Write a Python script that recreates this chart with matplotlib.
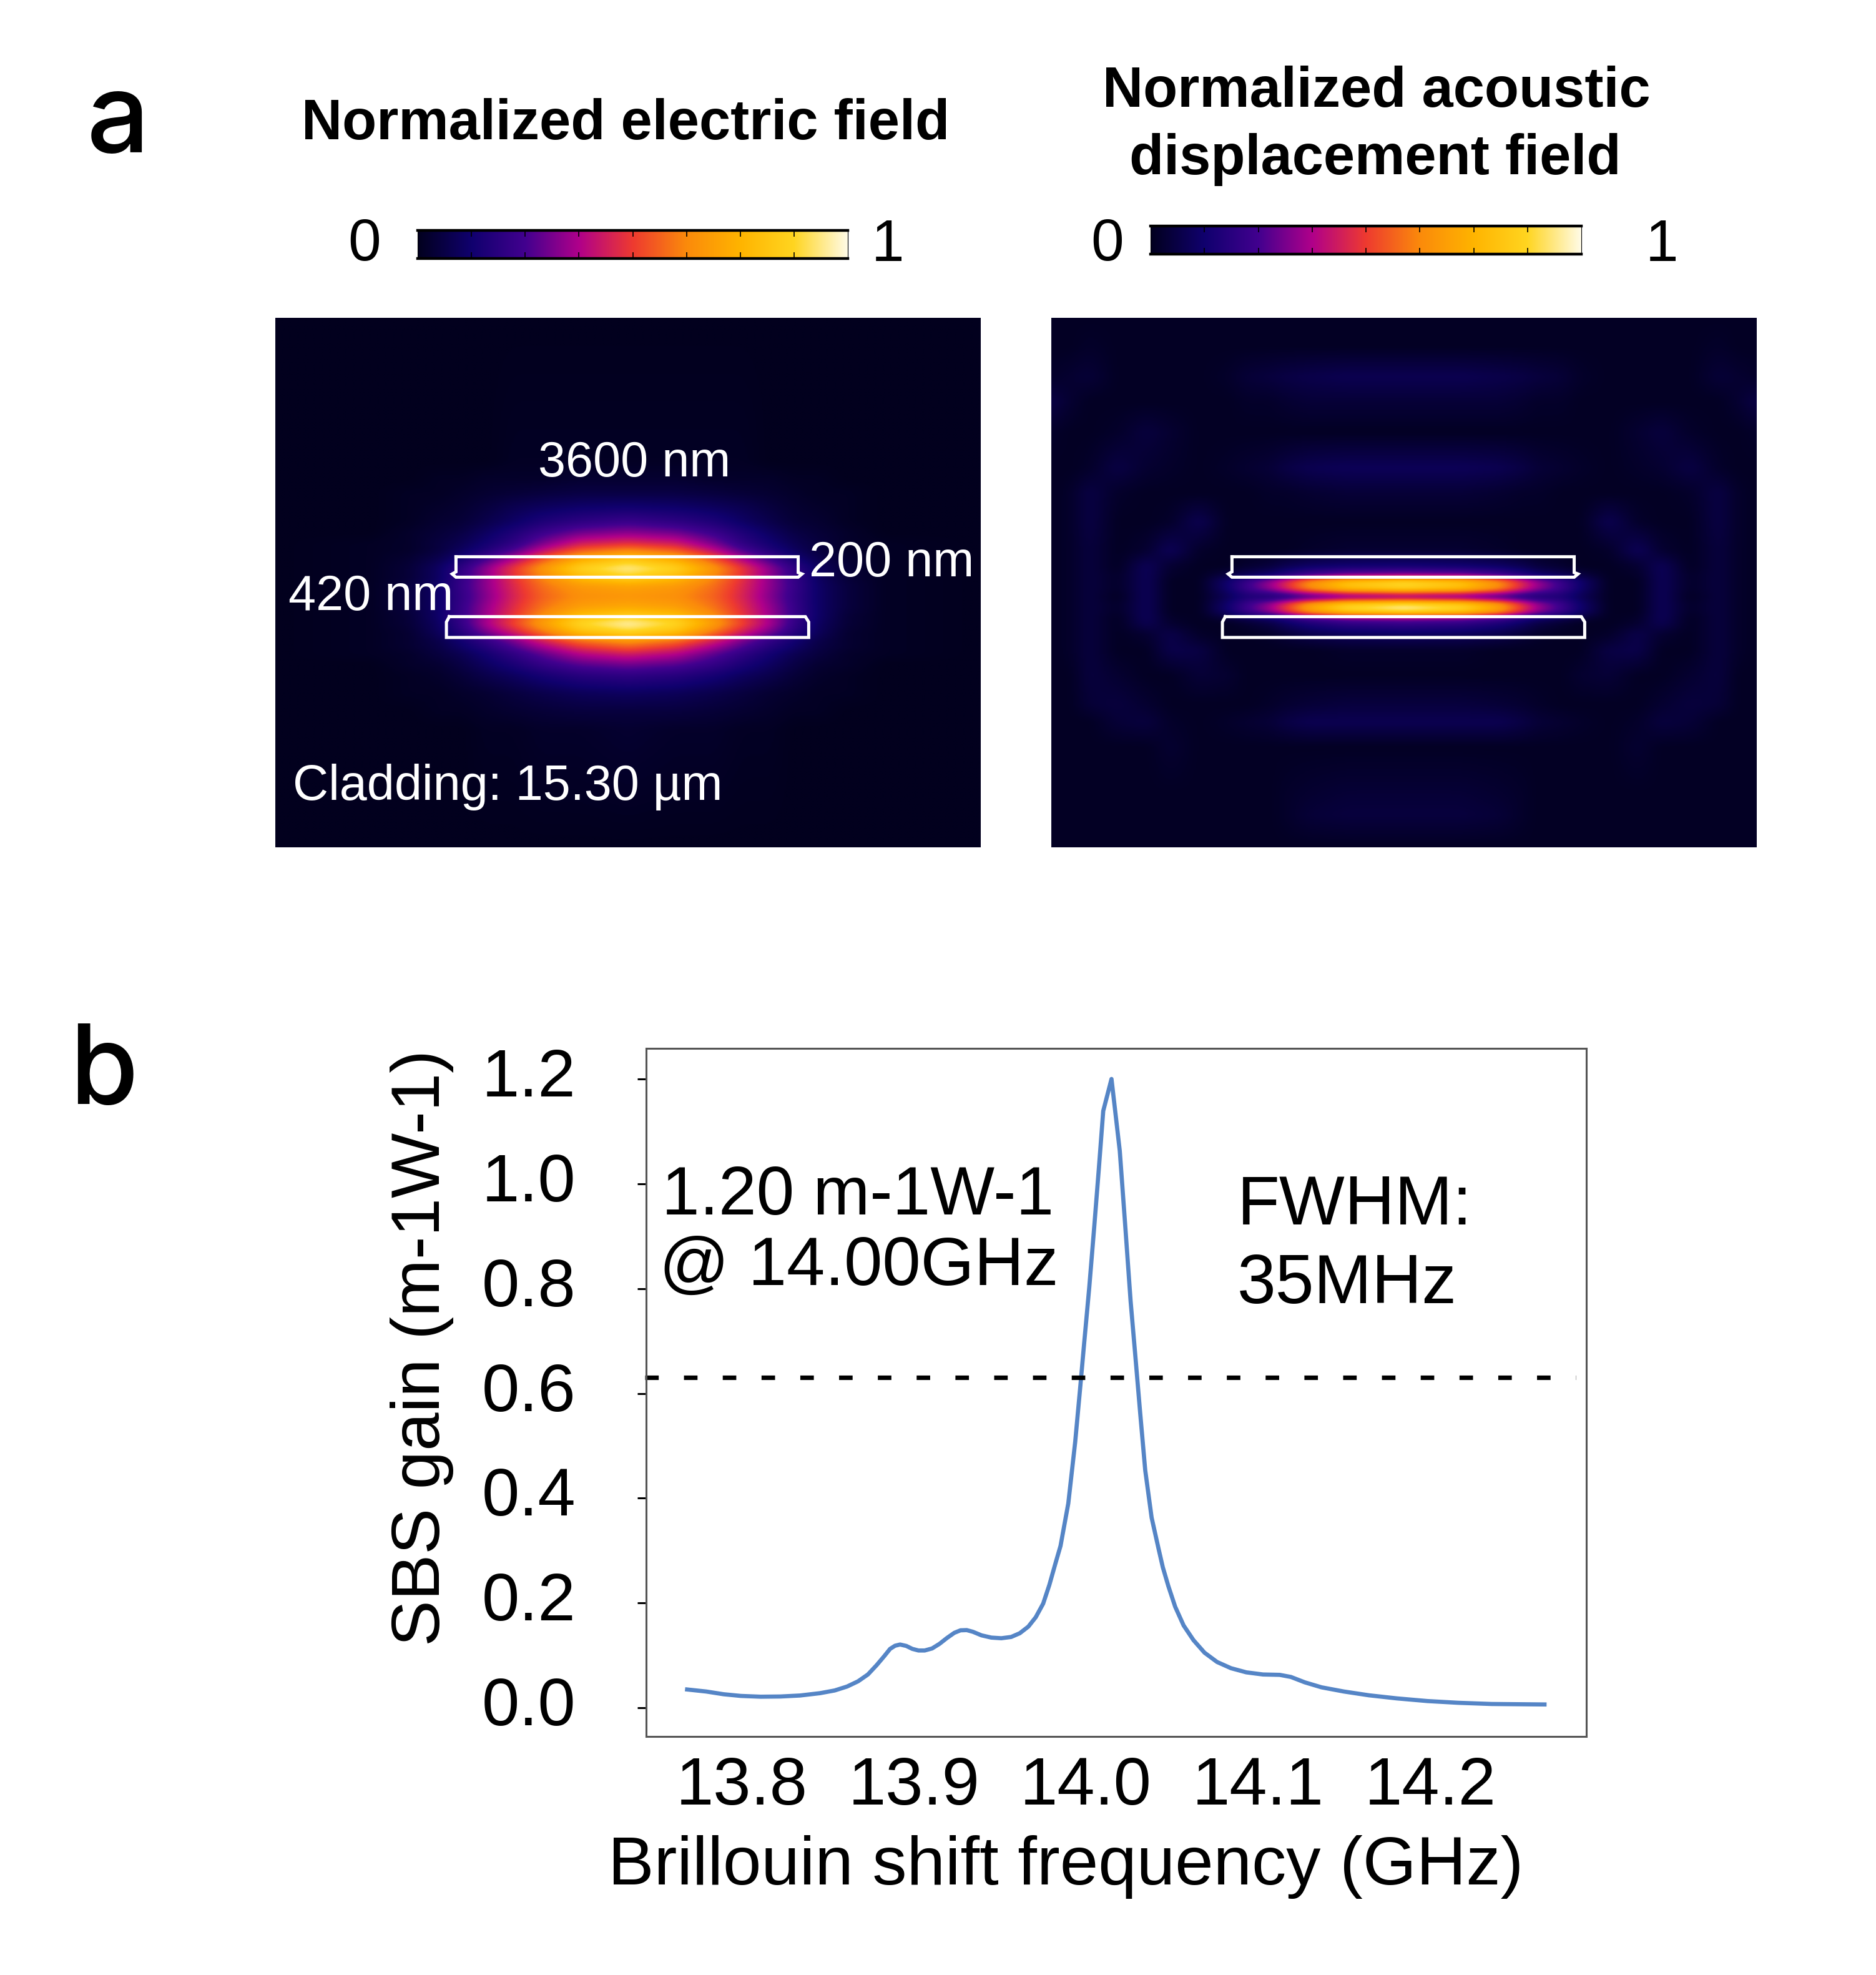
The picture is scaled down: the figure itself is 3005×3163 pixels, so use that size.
import numpy as np
import matplotlib
matplotlib.use("Agg")
import matplotlib.pyplot as plt
from matplotlib.colors import LinearSegmentedColormap
from matplotlib.transforms import offset_copy

W, H = 3005, 3163
plt.rcParams['font.family'] = ['Liberation Sans', 'DejaVu Sans']

# ---- panel b data ----
freq = [13.7683,13.7794,13.7895,13.7995,13.8110,13.8225,13.8339,13.8454,13.8540,13.8612,13.8676,13.8733,13.8784,13.8827,13.8862,13.8891,13.8920,13.8956,13.8991,13.9027,13.9063,13.9106,13.9149,13.9192,13.9235,13.9271,13.9307,13.9343,13.9393,13.9450,13.9508,13.9565,13.9615,13.9665,13.9708,13.9751,13.9787,13.9823,13.9852,13.9897,13.9937,13.9967,13.9989,14.0019,14.0048,14.0074,14.0100,14.0148,14.0196,14.0226,14.0259,14.0285,14.0315,14.0344,14.0381,14.0421,14.0446,14.0478,14.0518,14.0567,14.0624,14.0688,14.0761,14.0842,14.0931,14.1028,14.1125,14.1190,14.1271,14.1368,14.1498,14.1643,14.1805,14.1983,14.2161,14.2356,14.2663]
gain = [.0349,.0310,.0258,.0226,.0211,.0215,.0234,.0278,.0330,.0405,.0505,.0635,.0814,.0981,.1124,.1184,.1207,.1180,.1124,.1093,.1093,.1132,.1220,.1331,.1430,.1478,.1482,.1450,.1382,.1339,.1327,.1351,.1422,.1549,.1728,.1987,.2344,.2762,.309,.390,.507,.614,.695,.803,.919,1.027,1.139,1.200,1.063,.928,.776,.677,.561,.453,.363,.304,.2682,.2324,.1927,.1570,.1291,.1052,.0874,.0755,.0676,.0635,.0628,.0588,.0485,.0390,.0310,.0238,.0179,.0128,.0095,.0072,.0063]
half_max = 0.63
half_span = [13.7438, 14.2845]
x_ticks = [13.8, 13.9, 14.0, 14.1, 14.2]
y_ticks = [0.0, 0.2, 0.4, 0.6, 0.8, 1.0, 1.2]

# ---- panel a: fields sampled on coarse nodes (half panel, mirrored about the centre) ----
e_dx = [0,100,180,240,300,350,400,460,540,738]
e_y  = [52,450,500,540,580,620,650,680,700,720,750,775,800,830,860,885,905,930,950,970,990,1020,1050,1100,1150,1200,1528]
e_field = [
 [.00,.00,.00,.00,.00,.00,.00,.00,0,0],
 [.01,.01,.01,.01,.00,.00,.00,.00,0,0],
 [.03,.03,.02,.02,.02,.01,.01,.00,0,0],
 [.06,.06,.05,.04,.03,.02,.01,.01,0,0],
 [.13,.12,.10,.08,.05,.03,.02,.01,0,0],
 [.23,.20,.16,.11,.07,.04,.03,.01,0,0],
 [.33,.30,.23,.16,.10,.06,.04,.02,0,0],
 [.47,.43,.31,.20,.13,.08,.05,.02,.01,0],
 [.62,.55,.40,.26,.16,.10,.05,.02,.01,0],
 [.80,.70,.52,.36,.23,.13,.07,.03,.01,0],
 [.95,.86,.66,.49,.33,.20,.10,.04,.01,0],
 [.86,.78,.62,.48,.33,.21,.10,.04,.01,0],
 [.70,.67,.58,.46,.33,.22,.11,.05,.01,0],
 [.66,.64,.56,.45,.32,.21,.11,.05,.01,0],
 [.72,.69,.59,.47,.34,.22,.11,.05,.01,0],
 [.86,.80,.64,.49,.35,.22,.11,.04,.01,0],
 [.97,.88,.68,.51,.36,.21,.10,.04,.01,0],
 [.86,.78,.58,.43,.30,.18,.09,.03,.01,0],
 [.68,.60,.45,.32,.21,.13,.07,.03,.01,0],
 [.55,.48,.36,.26,.17,.11,.06,.03,.01,0],
 [.43,.38,.28,.20,.13,.08,.05,.02,.01,0],
 [.30,.27,.21,.15,.10,.06,.03,.02,0,0],
 [.20,.18,.14,.10,.07,.04,.02,.01,0,0],
 [.10,.09,.07,.05,.03,.02,.01,.01,0,0],
 [.05,.05,.04,.03,.02,.01,.01,0,0,0],
 [.03,.02,.02,.01,.01,0,0,0,0,0],
 [0,0,0,0,0,0,0,0,0,0],
]
a_dx = [0,120,200,250,280,330,370,430,490,540,600,660,700,738]
a_y  = [52,130,215,285,370,470,540,620,700,745,770,785,805,830,850,870,888,905,935,980,1050,1130,1180,1250,1385,1440,1528]
a_field = [
 [.01,.01,.01,.01,.01,.01,.01,.01,.01,.01,.01,.01,.01,.01],
 [.01,.01,.01,.01,.01,.01,.01,.01,.01,.01,.01,.02,.01,.01],
 [.08,.08,.07,.06,.05,.04,.02,.01,.01,.01,.01,.04,.03,.02],
 [.04,.04,.04,.03,.02,.02,.01,.01,.01,.01,.01,.01,.03,.06],
 [.01,.01,.01,.01,.01,.01,.01,.01,.03,.05,.02,.01,.01,.02],
 [.09,.09,.08,.06,.04,.03,.02,.01,.02,.03,.06,.02,.01,.01],
 [.04,.04,.03,.02,.02,.01,.01,.01,.01,.01,.02,.06,.02,.01],
 [.01,.01,.01,.01,.01,.01,.01,.08,.02,.01,.01,.06,.02,.01],
 [.03,.03,.02,.01,.01,.01,.01,.02,.09,.03,.01,.05,.02,.01],
 [.14,.13,.11,.08,.05,.03,.01,.01,.03,.09,.01,.05,.02,.01],
 [.35,.33,.26,.18,.13,.09,.06,.01,.02,.09,.02,.05,.02,.01],
 [.86,.78,.62,.44,.34,.22,.12,.01,.01,.09,.02,.05,.02,.01],
 [.88,.80,.64,.45,.35,.23,.12,.01,.01,.09,.02,.05,.02,.01],
 [.30,.28,.22,.17,.15,.15,.09,.01,.01,.09,.01,.05,.02,.01],
 [.92,.85,.68,.47,.35,.23,.12,.01,.01,.09,.02,.05,.02,.01],
 [.94,.86,.68,.47,.35,.23,.12,.01,.01,.09,.02,.05,.02,.01],
 [.35,.33,.26,.17,.13,.09,.05,.01,.02,.09,.01,.05,.02,.01],
 [.22,.20,.15,.10,.06,.03,.01,.01,.03,.08,.01,.05,.02,.01],
 [.10,.09,.07,.04,.02,.01,.01,.02,.07,.03,.01,.05,.02,.01],
 [.02,.02,.01,.01,.01,.01,.01,.06,.07,.01,.01,.05,.02,.01],
 [.01,.01,.01,.01,.01,.01,.03,.04,.01,.01,.03,.05,.01,.01],
 [.05,.05,.04,.03,.02,.01,.01,.01,.01,.03,.05,.04,.01,.01],
 [.08,.08,.08,.06,.04,.03,.02,.01,.02,.05,.04,.01,.01,.01],
 [.01,.01,.01,.01,.01,.01,.01,.01,.03,.01,.01,.01,.01,.01],
 [.04,.04,.03,.02,.01,.01,.01,.01,.01,.01,.01,.01,.01,.01],
 [.05,.05,.04,.02,.01,.01,.01,.01,.01,.01,.01,.01,.01,.01],
 [.01,.01,.01,.01,.01,.01,.01,.01,.01,.01,.01,.01,.01,.01],
]
wg_upper_x = [-360,356,356,364,356,-360,-368,-360,-360]
wg_upper_y = [718,718,762,766,775,775,766,760,718]
wg_lower_x = [-374,371,378,378,-380,-380,-374]
wg_lower_y = [885,885,900,943,943,900,885]

cmap_nodes = ['#02001e','#10006e','#42008f','#b0008a','#ee3a30','#fb8a0b','#ffb400','#ffd520','#fffbe6']
cmap = LinearSegmentedColormap.from_list('field', cmap_nodes, N=512)


def upsample(dx, ys, table):
    """Resample the node table on a dense mirrored grid, lightly smoothed."""
    t = np.asarray(table, float)
    xs = np.arange(-738, 739, 3.0)
    yy = np.arange(52, 1529, 3.0)
    a = np.array([np.interp(np.abs(xs), dx, row) for row in t])
    b = np.array([np.interp(yy, ys, col) for col in a.T]).T
    k = np.ones(5) / 5
    for _ in range(2):
        b = np.apply_along_axis(lambda v: np.convolve(np.pad(v, 2, mode='edge'), k, 'valid'), 0, b)
    k2 = np.ones(9) / 9
    for _ in range(2):
        b = np.apply_along_axis(lambda v: np.convolve(np.pad(v, 4, mode='edge'), k2, 'valid'), 1, b)
    return b


fig = plt.figure(figsize=(W / 100, H / 100), dpi=100, facecolor='white')


def axpx(l, t, r, b):
    return fig.add_axes([l / W, 1 - b / H, (r - l) / W, (b - t) / H])


def txt(x, y, s, **kw):
    kw.setdefault('ha', 'center')
    kw.setdefault('va', 'center')
    fig.text(x / W, 1 - y / H, s, **kw)


# field panels
for (l, r, dx, ys, tab) in [(441, 1571, e_dx, e_y, e_field), (1684, 2814, a_dx, a_y, a_field)]:
    ax = axpx(l, 509, r, 1357)
    ax.imshow(upsample(dx, ys, tab), cmap=cmap, vmin=0, vmax=1, aspect='auto',
              extent=(-738, 738, 1528, 52), interpolation='bilinear')
    ax.plot(wg_upper_x, wg_upper_y, color='white', lw=3.6, solid_joinstyle='miter')
    ax.plot(wg_lower_x, wg_lower_y, color='white', lw=3.6, solid_joinstyle='miter')
    ax.set_xlim(-738, 738)
    ax.set_ylim(1528, 52)
    ax.axis('off')

# colour bars
grad = np.linspace(0, 1, 512)[None, :]
for (l, t, r, b) in [(669, 369, 1358, 414), (1843, 362, 2533, 407)]:
    cb = axpx(l, t, r, b)
    cb.imshow(grad, cmap=cmap, aspect='auto', extent=(0, 1, 0, 1))
    cb.set_yticks([])
    cb.set_xticks(np.arange(1, 8) / 8)
    cb.tick_params(axis='x', direction='in', top=True, bottom=True, length=7, width=1.2,
                   color='black', labelbottom=False)
    for s in ('top', 'bottom'):
        cb.spines[s].set_linewidth(3.2)
    for s in ('left', 'right'):
        cb.spines[s].set_linewidth(0.8)

# panel a texts
txt(1002, 200, 'Normalized electric field', fontsize=65, fontweight='bold')
txt(2205, 147, 'Normalized acoustic', fontsize=65, fontweight='bold')
txt(2203, 256, 'displacement field', fontsize=65, fontweight='bold')
tk = dict(fontsize=68)
txt(584, 392, '0', **tk)
txt(1422, 394, '1', **tk)
txt(1774, 392, '0', **tk)
txt(2662, 394, '1', **tk)
wh = dict(color='white', fontsize=57)
txt(1016, 742, '3600 nm', **wh)
txt(1428, 902, '200 nm', **wh)
txt(594, 956, '420 nm', **wh)
txt(469, 1260, 'Cladding: 15.30 µm', ha='left', **wh)
lab = dict(fontsize=128, family=['Inter', 'DejaVu Sans'], fontweight='medium')
txt(189, 198, 'a', **lab)
txt(166, 1722, 'b', **lab)

# panel b
ax = axpx(1035, 1679, 2541, 2781)
ax.plot(freq, gain, color='#5585c6', lw=4.8, solid_joinstyle='round')
ax.plot(half_span, [half_max, half_max], color='black', lw=5.2,
        dashes=(3.0, 5.6), clip_on=False)
ax.set_xlim(13.7445, 14.2906)
ax.set_ylim(-0.0548, 1.2584)
ax.set_xticks(x_ticks)
ax.set_xticklabels([f'{v:.1f}' for v in x_ticks])
ax.set_yticks(y_ticks)
ax.set_yticklabels([f'{v:.1f}' for v in y_ticks])
ax.tick_params(axis='x', length=0, labelsize=78, pad=22)
ax.tick_params(axis='y', length=10, width=2.2, labelsize=78, pad=71)
for t in ax.get_yticklabels():
    t.set_transform(offset_copy(t.get_transform(), fig=fig, y=11, units='dots'))
for s in ax.spines.values():
    s.set_linewidth(2.2)
    s.set_color('#555555')
txt(1707, 2990, 'Brillouin shift frequency (GHz)', fontsize=79.5)
txt(676, 2159, 'SBS gain (m-1W-1)', fontsize=79.5, rotation=90)
txt(1060, 1917, '1.20 m-1W-1', ha='left', fontsize=78.5)
txt(1056, 2030, '@ 14.00GHz', ha='left', fontsize=79.5)
txt(1982, 1932, 'FWHM:', ha='left', fontsize=80)
txt(1982, 2058, '35MHz', ha='left', fontsize=80)

fig.savefig('out.png', dpi=100, facecolor='white')
